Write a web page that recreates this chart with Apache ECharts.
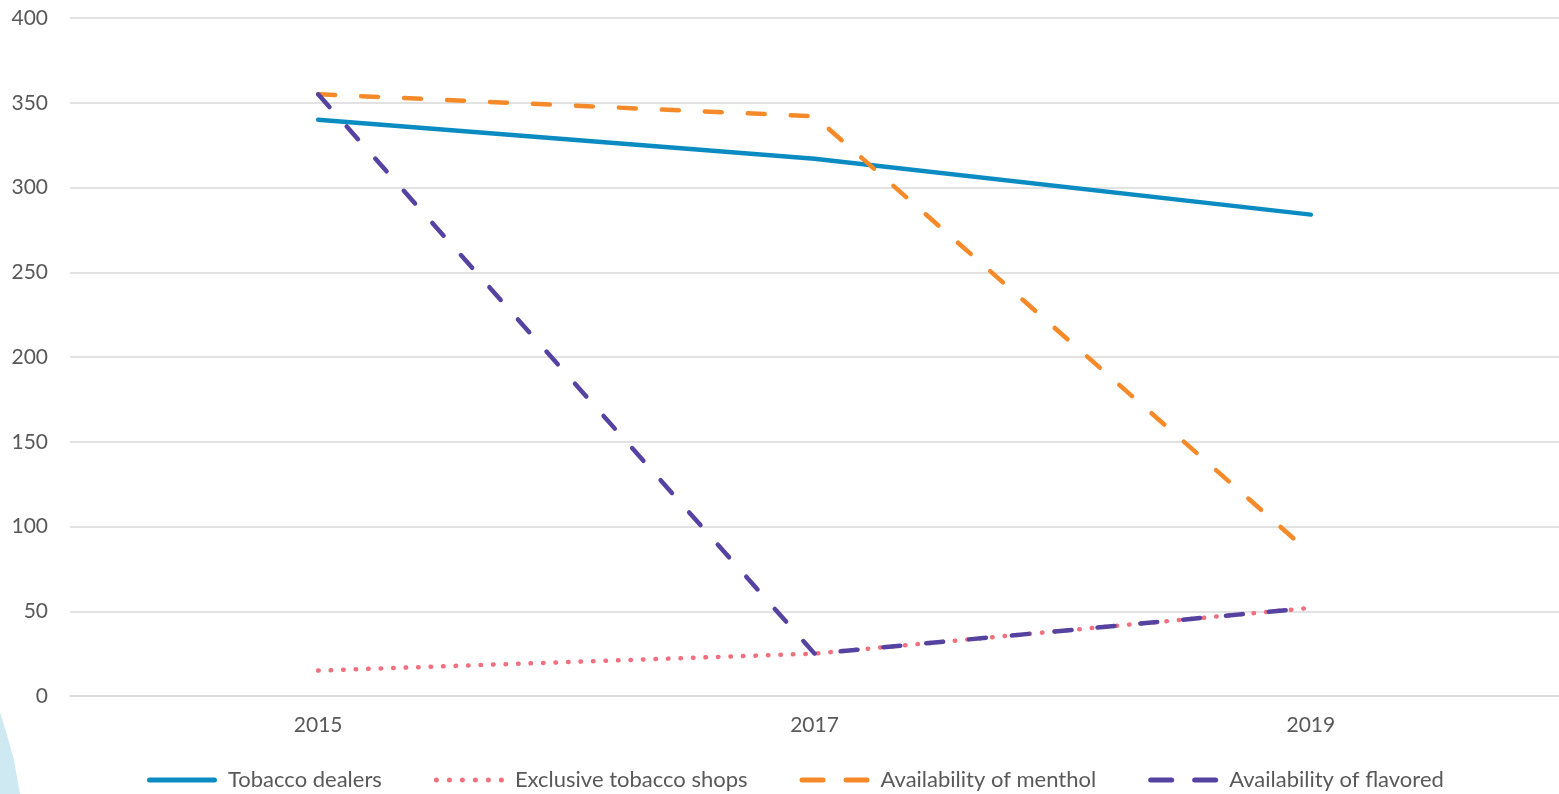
<!DOCTYPE html>
<html>
<head>
<meta charset="utf-8">
<script src="https://cdn.jsdelivr.net/npm/echarts@6/dist/echarts.min.js"></script>
<style>
html,body{margin:0;padding:0;background:#fff;}
#chart{width:1559px;height:794px;}
</style>
</head>
<body>
<div id="chart"></div>
<script>
const years = ['2015', '2017', '2019'];
const tobaccoDealers = [340, 317, 284];
const exclusiveShops = [15, 25, 52];
const menthol = [355, 342, 84];
const flavored = [355, 25, 52];
const yTicks = { min: 0, max: 400, interval: 50 };

const FONT = 'Lato, "Open Sans", sans-serif';
const TEXT = '#595959';

// Legend keys drawn as small paths (70 x 5 box)
const ICON_SOLID = 'path://M2.5,0 H67.5 A2.5,2.5 0 0 1 67.5,5 H2.5 A2.5,2.5 0 0 1 2.5,0 Z';
const ICON_DOTS = 'path://' + [2.5, 15.5, 28.5, 41.5, 54.5, 67.5]
  .map(c => `M${c - 2.5},2.5 A2.5,2.5 0 1 0 ${c + 2.5},2.5 A2.5,2.5 0 1 0 ${c - 2.5},2.5 Z`).join(' ');
const ICON_DASH = 'path://M2.5,0 H23.5 A2.5,2.5 0 0 1 23.5,5 H2.5 A2.5,2.5 0 0 1 2.5,0 Z ' +
  'M46.5,0 H67.5 A2.5,2.5 0 0 1 67.5,5 H46.5 A2.5,2.5 0 0 1 46.5,0 Z';

function lineSeries(name, data, color, dash) {
  return {
    name: name,
    type: 'line',
    data: data,
    symbol: 'none',
    lineStyle: { color: color, width: 4.5, type: dash, cap: 'round', join: 'round' },
    itemStyle: { color: color },
    emphasis: { disabled: true }
  };
}

const chart = echarts.init(document.getElementById('chart'));
chart.setOption({
  animation: false,
  grid: { left: 70, right: 0, top: 18, bottom: 98 },
  graphic: [{
    type: 'polygon',
    z: -1,
    shape: { points: [[0, 712], [7, 735], [14, 760], [20, 794], [0, 794]] },
    style: { fill: '#cfe9f3' }
  }],
  legend: {
    top: 769,
    left: 147,
    padding: 0,
    itemWidth: 70,
    itemHeight: 5,
    itemGap: 52,
    textStyle: { fontFamily: FONT, fontSize: 22, color: TEXT, padding: [0, 0, 0, 6] },
    data: [
      { name: 'Tobacco dealers', icon: ICON_SOLID },
      { name: 'Exclusive tobacco shops', icon: ICON_DOTS },
      { name: 'Availability of menthol', icon: ICON_DASH },
      { name: 'Availability of flavored', icon: ICON_DASH }
    ]
  },
  xAxis: {
    type: 'category',
    data: years,
    boundaryGap: true,
    axisLine: { show: true, lineStyle: { color: '#d9d9d9', width: 1.5 } },
    axisTick: { show: false },
    axisLabel: { color: TEXT, fontFamily: FONT, fontSize: 21, margin: 19 }
  },
  yAxis: {
    type: 'value',
    min: yTicks.min,
    max: yTicks.max,
    interval: yTicks.interval,
    axisLine: { show: false },
    axisTick: { show: false },
    splitLine: { lineStyle: { color: '#d9d9d9', width: 1.5 } },
    axisLabel: { color: TEXT, fontFamily: FONT, fontSize: 21, margin: 22 }
  },
  series: [
    lineSeries('Tobacco dealers', tobaccoDealers, '#0a8cc2', 'solid'),
    lineSeries('Exclusive tobacco shops', exclusiveShops, '#f0707f', [0.5, 12]),
    lineSeries('Availability of menthol', menthol, '#f68a28', [17, 26]),
    lineSeries('Availability of flavored', flavored, '#5443a0', [17, 26])
  ]
});
</script>
</body>
</html>
